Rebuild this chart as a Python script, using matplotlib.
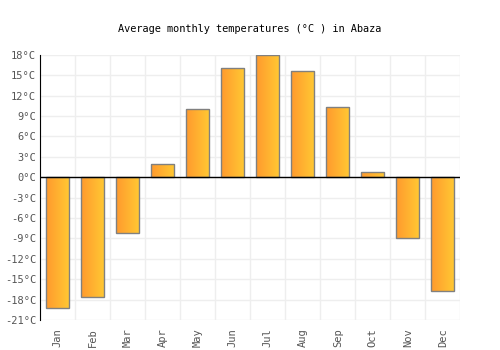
import numpy as np
import matplotlib
matplotlib.use('Agg')
import matplotlib.pyplot as plt
from matplotlib.colors import LinearSegmentedColormap

months = ['Jan', 'Feb', 'Mar', 'Apr', 'May', 'Jun', 'Jul', 'Aug', 'Sep', 'Oct', 'Nov', 'Dec']
temps = [-19.3, -17.6, -8.2, 1.9, 10.0, 16.0, 18.0, 15.6, 10.3, 0.7, -8.9, -16.7]
yticks = list(range(-21, 19, 3))

plt.rcParams['font.family'] = ['DejaVu Sans Mono']

fig = plt.figure(figsize=(5, 3.5), dpi=100)
ax = fig.add_axes([0.0806, 0.0857, 0.84, 0.758])

cmap = LinearSegmentedColormap.from_list('grad', ['#ff9a2e', '#ffc933'])
grad = np.linspace(0, 1, 64).reshape(1, -1)

x = np.arange(len(months))
bars = ax.bar(x, temps, width=0.66, facecolor='none', edgecolor='#808080', linewidth=1, zorder=3)
for b in bars:
    x0, y0 = b.get_x(), b.get_y()
    w, h = b.get_width(), b.get_height()
    im = ax.imshow(grad, cmap=cmap, aspect='auto', extent=[x0, x0 + w, y0, y0 + h], zorder=2)
    im.set_clip_path(b)

ax.set_xlim(-0.5, len(months) - 0.5)
ax.set_ylim(-21, 18)
ax.set_yticks(yticks)
ax.set_yticklabels([f'{t}°C' for t in yticks], fontsize=7.5, color='#555555')
ax.set_xticks(x)
ax.set_xticklabels(months, rotation=90, fontsize=7.5, color='#555555')
ax.set_xticks(np.arange(-0.5, len(months), 1), minor=True)
ax.grid(True, which='minor', axis='x', color='#eeeeee', linewidth=1, zorder=0)
ax.grid(True, which='major', axis='y', color='#eeeeee', linewidth=1, zorder=0)
ax.tick_params(which='both', length=0, pad=3)
ax.tick_params(axis='x', pad=6)
for s in ['top', 'right', 'bottom']:
    ax.spines[s].set_visible(False)
ax.spines['left'].set_color('black')
ax.axhline(0, color='black', linewidth=1, zorder=4)

fig.suptitle('Average monthly temperatures (°C ) in Abaza', y=0.932, fontsize=7.4)

fig.savefig('out.png', dpi=100)
